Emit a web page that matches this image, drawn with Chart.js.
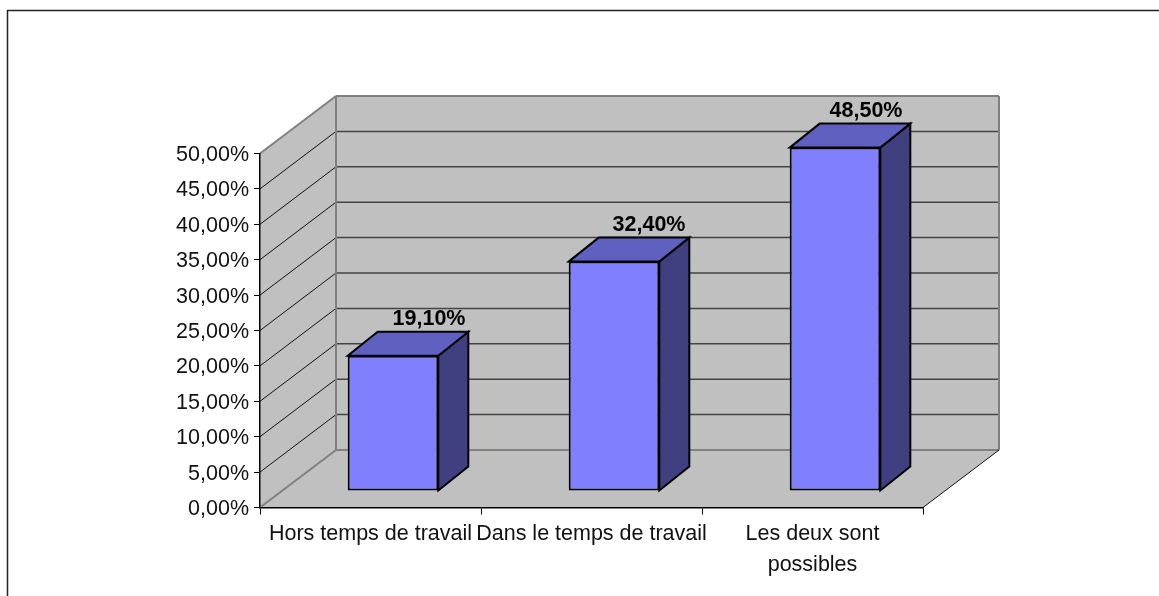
<!DOCTYPE html>
<html lang="fr">
<head>
<meta charset="utf-8">
<title>Graphique</title>
<script src="https://cdn.jsdelivr.net/npm/chart.js@4/dist/chart.umd.min.js"></script>
<style>
    html, body { margin: 0; padding: 0; background: #fff; overflow: hidden; }
    canvas { display: block; }
</style>
</head>
<body>
<canvas id="barChart" width="1159" height="596"></canvas>
<script>
const categories = ['Hors temps de travail', 'Dans le temps de travail', ['Les deux sont', 'possibles']];
const seriesValues = [19.1, 32.4, 48.5];
const axisMin = 0;
const axisMax = 50;
const axisStep = 5;

const FONT = '"Liberation Sans", Arial, sans-serif';
// depth of the walls and of the bars, and where the bars stand on the floor
const WALL_DX = 76, WALL_DY = -57.5;
const BAR_DX = 30, BAR_DY = -24;
const SHIFT_DX = 22.5, SHIFT_DY = -16.5;
const LABEL_DX = [36, 35, 31];

function formatPercent(value) {
    return value.toFixed(2).replace('.', ',') + '%';
}

function poly(ctx, points, fill, stroke, width) {
    ctx.beginPath();
    points.forEach((p, i) => i ? ctx.lineTo(p[0], p[1]) : ctx.moveTo(p[0], p[1]));
    ctx.closePath();
    if (fill) {
        ctx.fillStyle = fill;
        ctx.fill();
    }
    if (stroke) {
        ctx.strokeStyle = stroke;
        ctx.lineWidth = width;
        ctx.lineJoin = 'miter';
        ctx.stroke();
    }
}

function line(ctx, x1, y1, x2, y2, color, width) {
    ctx.beginPath();
    ctx.moveTo(x1, y1);
    ctx.lineTo(x2, y2);
    ctx.strokeStyle = color;
    ctx.lineWidth = width;
    ctx.stroke();
}

// Frame, walls and floor, drawn behind everything
const wallsPlugin = {
    id: 'walls',
    beforeDraw(chart) {
        const ctx = chart.ctx;
        const { left, right, top, bottom } = chart.chartArea;
        const yScale = chart.scales.y;
        const backL = left + WALL_DX, backR = right + WALL_DX;
        const backT = top + WALL_DY, backB = bottom + WALL_DY;

        // y labels sit a little lower than the tick marks
        const drawLabels = yScale.drawLabels;
        yScale.drawLabels = function (area) {
            ctx.save();
            ctx.translate(0, 1.5);
            drawLabels.call(this, area);
            ctx.restore();
        };

        ctx.save();
        line(ctx, 7.5, 10, 7.5, 596, '#222', 1.5);
        line(ctx, 7, 10.5, 1159, 10.5, '#222', 1.5);

        poly(ctx, [[left, bottom], [backL, backB], [backL, backT], [left, top]], '#c0c0c0');
        poly(ctx, [[backL, backT], [backR, backT], [backR, backB], [backL, backB]], '#c0c0c0');
        poly(ctx, [[left, bottom], [right, bottom], [backR, backB], [backL, backB]], '#c0c0c0');

        yScale.ticks.forEach(tick => {
            if (tick.value === axisMin || tick.value === axisMax) return;
            const y = yScale.getPixelForValue(tick.value);
            line(ctx, left, y, backL, y + WALL_DY, '#111', 1);
            line(ctx, backL, y + WALL_DY, backR, y + WALL_DY, '#444', 1.5);
        });

        line(ctx, left, top, backL, backT, '#808080', 2);
        line(ctx, backL, backT, backR, backT, '#808080', 2);
        line(ctx, backR, backT, backR, backB, '#808080', 2);
        line(ctx, backL, backT, backL, backB, '#808080', 2);
        line(ctx, backL, backB, backR, backB, '#808080', 2);
        line(ctx, left, bottom, backL, backB, '#808080', 2);
        line(ctx, right, bottom, backR, backB, '#111', 1);
        ctx.restore();
    },
    // bars stand away from the front edge, so the whole dataset gets shifted
    beforeDatasetDraw(chart, args) {
        const ctx = chart.ctx;
        ctx.save();
        ctx.translate(SHIFT_DX, SHIFT_DY);
        args.meta.data.forEach(bar => {
            const l = bar.x - bar.width / 2, r = bar.x + bar.width / 2;
            const t = bar.y, b = bar.base;
            poly(ctx, [[r, t], [r + BAR_DX, t + BAR_DY], [r + BAR_DX, b + BAR_DY], [r, b]], '#404080', '#000', 2);
            poly(ctx, [[l, t], [l + BAR_DX, t + BAR_DY], [r + BAR_DX, t + BAR_DY], [r, t]], '#6060c0', '#000', 2);
        });
    },
    afterDatasetDraw(chart, args) {
        const ctx = chart.ctx;
        ctx.restore();
        ctx.save();
        ctx.font = 'bold 21.5px ' + FONT;
        ctx.fillStyle = '#000';
        ctx.textAlign = 'center';
        ctx.textBaseline = 'middle';
        args.meta.data.forEach((bar, i) => {
            ctx.fillText(formatPercent(seriesValues[i]), bar.x + SHIFT_DX + LABEL_DX[i], bar.y + SHIFT_DY - 37);
        });
        ctx.restore();
    }
};

function initChart() {
    const ctx = document.getElementById('barChart').getContext('2d');
    new Chart(ctx, {
        type: 'bar',
        data: {
            labels: categories,
            datasets: [{
                data: seriesValues,
                backgroundColor: '#8080ff',
                borderColor: '#000',
                borderWidth: 2,
                borderSkipped: false,
                barPercentage: 0.41,
                categoryPercentage: 1,
                clip: false
            }]
        },
        options: {
            responsive: false,
            animation: false,
            layout: { padding: { top: 153.5, right: 236, left: 0, bottom: 0 } },
            plugins: {
                legend: { display: false },
                tooltip: { enabled: false }
            },
            scales: {
                x: {
                    afterFit: scale => { scale.height = 88.5; },
                    grid: { drawOnChartArea: false, color: '#000', tickLength: 7, lineWidth: 1 },
                    border: { color: '#000', width: 1.5 },
                    ticks: {
                        autoSkip: false,
                        maxRotation: 0,
                        minRotation: 0,
                        color: '#111',
                        padding: 5,
                        font: { family: FONT, size: 21.5, lineHeight: 1.4 }
                    }
                },
                y: {
                    min: axisMin,
                    max: axisMax,
                    afterFit: scale => { scale.width = 260; },
                    grid: { drawOnChartArea: false, color: '#000', tickLength: 6, lineWidth: 1 },
                    border: { color: '#000', width: 1.5 },
                    ticks: {
                        stepSize: axisStep,
                        color: '#111',
                        padding: 5,
                        font: { family: FONT, size: 21.5 },
                        callback: value => formatPercent(value)
                    }
                }
            }
        },
        plugins: [wallsPlugin]
    });
}

window.addEventListener('load', () => {
    initChart();
});
</script>
</body>
</html>
